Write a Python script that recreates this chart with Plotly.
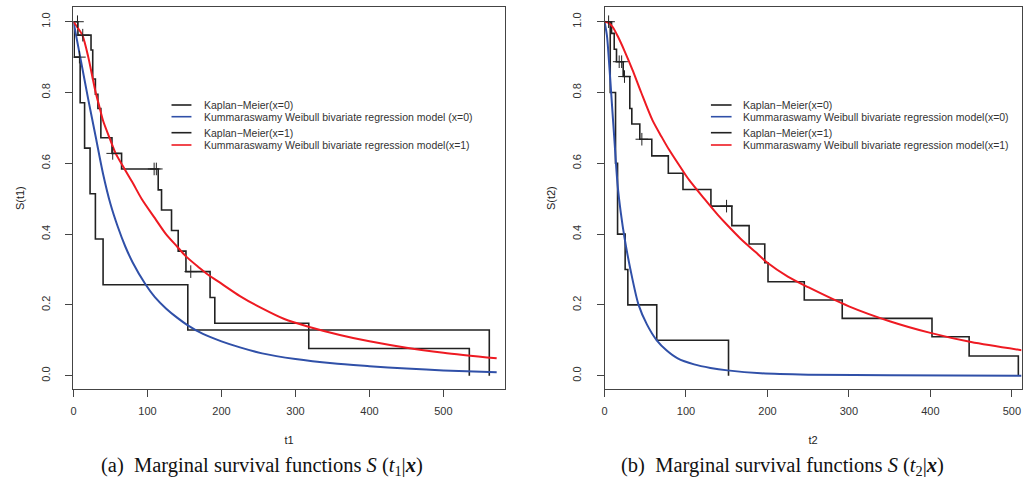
import numpy as np
import plotly.graph_objects as go

W, H = 1026, 491

# ---- Panel (a): marginal survival of t1 ----
km_t1_x0_time = [0, 1, 9, 15, 22.4, 29.6, 40, 154.5, 562]
km_t1_x0_surv = [1.0, 0.9, 0.771, 0.643, 0.514, 0.386, 0.257, 0.129, 0.0]
km_t1_x0_cens = [8]

km_t1_x1_time = [0, 6, 23.7, 26, 29.6, 33, 37, 52, 65, 114.5, 119, 132.5,
                 141.5, 152, 184.6, 191, 318, 535]
km_t1_x1_surv = [1.0, 0.962, 0.92, 0.838, 0.795, 0.755, 0.672, 0.628, 0.584,
                 0.525, 0.468, 0.41, 0.352, 0.294, 0.221, 0.148, 0.077, 0.0]
km_t1_x1_cens = [5.4, 12.5, 53, 109, 112, 158.5]

kw_t1_x0_time = [0, 10, 20, 30, 40, 50, 60, 70, 80, 97, 110, 125, 140, 154,
                 175, 200, 225, 255, 300, 350, 400, 450, 500, 572]
kw_t1_x0_surv = [1.0, 0.89, 0.78, 0.675, 0.57, 0.485, 0.42, 0.365, 0.32,
                 0.259, 0.222, 0.19, 0.164, 0.143, 0.118, 0.097, 0.08, 0.063,
                 0.047, 0.035, 0.027, 0.02, 0.015, 0.0096]

kw_t1_x1_time = [0, 5, 12, 20, 24, 30, 35, 40, 50, 57, 69, 80, 92, 110, 125,
                 140, 152, 170, 182, 200, 225, 255, 285, 320, 360, 400, 450,
                 500, 572]
kw_t1_x1_surv = [1.0, 0.985, 0.962, 0.9, 0.86, 0.8, 0.76, 0.72, 0.665, 0.628,
                 0.584, 0.545, 0.5, 0.445, 0.4, 0.365, 0.337, 0.305, 0.285,
                 0.26, 0.225, 0.19, 0.16, 0.137, 0.115, 0.097, 0.079, 0.065,
                 0.049]

# ---- Panel (b): marginal survival of t2 ----
km_t2_x0_time = [0, 7, 13.5, 16, 25.3, 28.6, 64.1, 152.2]
km_t2_x0_surv = [1.0, 0.8, 0.6, 0.4, 0.3, 0.2, 0.1, 0.0]
km_t2_x0_cens = []

km_t2_x1_time = [0, 8.6, 11.9, 14.7, 22.9, 31, 33.5, 43.3, 58, 78.3, 96.3,
                 130.6, 156.3, 177.5, 196.7, 200.7, 245.2, 291.8, 402, 447.6,
                 508]
km_t2_x1_surv = [1.0, 0.967, 0.922, 0.887, 0.845, 0.755, 0.711, 0.668, 0.621,
                 0.572, 0.526, 0.479, 0.424, 0.372, 0.319, 0.2655, 0.214,
                 0.162, 0.110, 0.0556, 0.0]
km_t2_x1_cens = [5, 18, 21, 24.5, 45.8, 149.8]

kw_t2_x0_time = [0, 3, 6, 9, 12, 16, 20, 24.5, 31.8, 41.8, 52, 64.1, 76,
                 89.8, 110, 130, 151, 192, 250, 350, 512]
kw_t2_x0_surv = [1.0, 0.96, 0.87, 0.77, 0.67, 0.54, 0.46, 0.39, 0.3, 0.2,
                 0.145, 0.1, 0.072, 0.049, 0.032, 0.022, 0.015, 0.0068,
                 0.003, 0.001, 0.0]

kw_t2_x1_time = [0, 5, 10, 16.4, 25, 34.3, 45, 58.8, 70, 79.3, 95.5, 103.8,
                 122.4, 138.8, 150, 167, 185, 200, 225, 250, 300, 350, 400,
                 450, 512]
kw_t2_x1_surv = [1.0, 0.997, 0.985, 0.958, 0.915, 0.864, 0.8, 0.722, 0.675,
                 0.638, 0.581, 0.553, 0.5, 0.455, 0.427, 0.387, 0.35, 0.319,
                 0.28, 0.25, 0.196, 0.154, 0.121, 0.095, 0.072]

x_ticks = [0, 100, 200, 300, 400, 500]
y_ticks = [0.0, 0.2, 0.4, 0.6, 0.8, 1.0]

x_titles = ["t1", "t2"]
y_titles = ["S(t1)", "S(t2)"]

legend_a = ["Kaplan\u2212Meier(x=0)",
            "Kummaraswamy Weibull bivariate regression model (x=0)",
            "Kaplan\u2212Meier(x=1)",
            "Kummaraswamy Weibull bivariate regression model(x=1)"]
legend_b = ["Kaplan\u2212Meier(x=0)",
            "Kummaraswamy Weibull bivariate regression model(x=0)",
            "Kaplan\u2212Meier(x=1)",
            "Kummaraswamy Weibull bivariate regression model(x=1)"]

KM_COLOR = "#222222"
BLUE = "#3050A8"
RED = "#EE1A22"
AXIS_COLOR = "#444444"
SANS = "Liberation Sans, Arial, sans-serif"
SERIF = "Liberation Serif, Times New Roman, serif"


def step_value(times, surv, t):
    idx = np.searchsorted(np.asarray(times), t, side="right") - 1
    return surv[idx]


fig = go.Figure()


def add_panel(xa, ya, km0, km1, kw0, kw1, cens0, cens1):
    for (times, surv) in (km0, km1):
        fig.add_trace(go.Scatter(
            x=times, y=surv, mode="lines", line_shape="hv",
            line=dict(color=KM_COLOR, width=1.6),
            xaxis=xa, yaxis=ya, showlegend=False, hoverinfo="skip"))
    for (times, surv), col in ((kw0, BLUE), (kw1, RED)):
        fig.add_trace(go.Scatter(
            x=times, y=surv, mode="lines", line_shape="spline",
            line=dict(color=col, width=2, smoothing=0.8),
            xaxis=xa, yaxis=ya, showlegend=False, hoverinfo="skip"))
    for (times, surv), cens in ((km0, cens0), (km1, cens1)):
        if not cens:
            continue
        fig.add_trace(go.Scatter(
            x=cens, y=[step_value(times, surv, c) for c in cens],
            mode="markers",
            marker=dict(symbol="cross-thin", size=9,
                        line=dict(color=KM_COLOR, width=1)),
            xaxis=xa, yaxis=ya, showlegend=False, hoverinfo="skip"))


add_panel("x", "y",
          (km_t1_x0_time, km_t1_x0_surv), (km_t1_x1_time, km_t1_x1_surv),
          (kw_t1_x0_time, kw_t1_x0_surv), (kw_t1_x1_time, kw_t1_x1_surv),
          km_t1_x0_cens, km_t1_x1_cens)
add_panel("x2", "y2",
          (km_t2_x0_time, km_t2_x0_surv), (km_t2_x1_time, km_t2_x1_surv),
          (kw_t2_x0_time, kw_t2_x0_surv), (kw_t2_x1_time, kw_t2_x1_surv),
          km_t2_x0_cens, km_t2_x1_cens)


def px(x):
    return x / W


def py(y):
    return 1 - y / H


plot_top, plot_bottom = 7.3, 389
y_dom = [py(plot_bottom), py(plot_top)]

title_font = dict(family=SANS, size=11, color="#222222")
common_x = dict(showgrid=False, zeroline=False, showline=True, mirror=True,
                linecolor=AXIS_COLOR, linewidth=1, ticks="outside", ticklen=7,
                tickcolor=AXIS_COLOR, tickvals=x_ticks, ticklabelstandoff=5,
                tickfont=dict(family=SANS, size=11, color="#333333"))
common_y = dict(showgrid=False, zeroline=False, showline=True, mirror=True,
                linecolor=AXIS_COLOR, linewidth=1, ticks="outside", ticklen=7,
                tickcolor=AXIS_COLOR, tickvals=y_ticks,
                ticktext=[f"{v:.1f}" for v in y_ticks], tickangle=-90,
                ticklabelstandoff=11, range=[-0.0376, 1.0407],
                tickfont=dict(family=SANS, size=11, color="#333333"))

fig.update_layout(
    width=W, height=H, margin=dict(l=0, r=0, t=0, b=0),
    paper_bgcolor="white", plot_bgcolor="white", showlegend=False,
    xaxis=dict(domain=[px(70.7), px(503)], range=[0, 582.6], anchor="y",
               title=dict(text=x_titles[0], font=title_font, standoff=20),
               **common_x),
    yaxis=dict(domain=y_dom, anchor="x",
               title=dict(text=y_titles[0], font=title_font, standoff=13),
               **common_y),
    xaxis2=dict(domain=[px(603.3), px(1021.5)], range=[0, 511.9],
                anchor="y2",
                title=dict(text=x_titles[1], font=title_font, standoff=20),
                **common_x),
    yaxis2=dict(domain=y_dom, anchor="x2",
                title=dict(text=y_titles[1], font=title_font, standoff=13),
                **common_y),
)

annotations = []
shapes = []


def label(text, x, y, size, family=SANS, angle=0, xanchor="center",
          color="#222222"):
    annotations.append(dict(
        text=text, x=px(x), y=py(y), xref="paper", yref="paper",
        showarrow=False, xanchor=xanchor, yanchor="middle", textangle=angle,
        font=dict(family=family, size=size, color=color)))


# captions
label("(a)  Marginal survival functions <i>S</i> (<i>t</i><sub>1</sub>|<b><i>x</i></b>)",
      260, 466, 20.5, family=SERIF, color="#111111")
label("(b)  Marginal survival functions <i>S</i> (<i>t</i><sub>2</sub>|<b><i>x</i></b>)",
      782, 466, 20.5, family=SERIF, color="#111111")

# in-plot legends
legend_rows = [105, 116.7, 132.7, 145]
legend_colors = [KM_COLOR, BLUE, KM_COLOR, RED]
for texts, x0, x1, xt in ((legend_a, 169, 189, 200),
                          (legend_b, 710, 730.7, 740)):
    for text, row, col in zip(texts, legend_rows, legend_colors):
        shapes.append(dict(type="line", xref="paper", yref="paper",
                           x0=px(x0), x1=px(x1), y0=py(row), y1=py(row),
                           line=dict(color=col, width=1.6)))
        label(text, xt, row, 10.5, xanchor="left", color="#333333")

fig.update_layout(annotations=annotations, shapes=shapes)

fig.write_html("out.html")
